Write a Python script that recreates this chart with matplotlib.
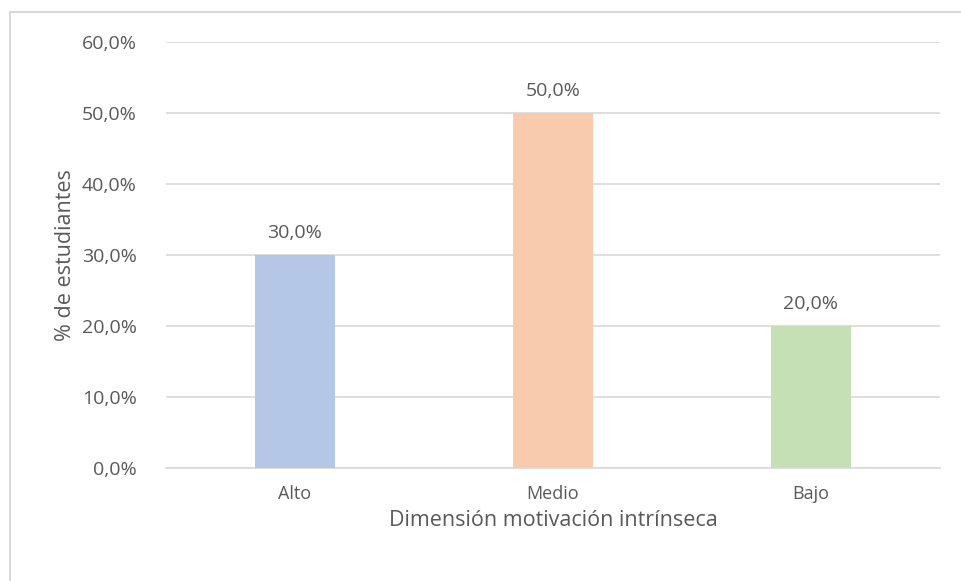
import matplotlib.pyplot as plt
from matplotlib.lines import Line2D
from matplotlib.ticker import FuncFormatter

categories = ['Alto', 'Medio', 'Bajo']
values = [30.0, 50.0, 20.0]
colors = ['#B4C7E7', '#F8CBAD', '#C5E0B4']
yticks = [0, 10, 20, 30, 40, 50, 60]

plt.rcParams['font.family'] = ['Open Sans', 'DejaVu Sans']
txt = '#595959'

fig = plt.figure(figsize=(9.62, 5.81), dpi=100)
ax = fig.add_axes([166/962, 113/581, 774/962, 426/581])

# border (only top and left are visible in the crop)
W, H = 962, 581
fig.lines.append(Line2D([10/W, 10/W], [0, 1 - 12/H], transform=fig.transFigure,
                        color='#D9D9D9', linewidth=1.5))
fig.lines.append(Line2D([10/W, 1], [1 - 12/H, 1 - 12/H], transform=fig.transFigure,
                        color='#D9D9D9', linewidth=1.5))

x = range(len(categories))
bars = ax.bar(x, values, width=0.31, color=colors, zorder=3)
for b, v in zip(bars, values):
    ax.text(b.get_x() + b.get_width() / 2, v + 1.8, f'{v:.1f}%'.replace('.', ','),
            ha='center', va='bottom', fontsize=14, color=txt)

ax.set_xlim(-0.5, 2.5)
ax.set_ylim(0, 60)
ax.set_yticks(yticks)
ax.yaxis.set_major_formatter(FuncFormatter(lambda v, p: f'{v:.1f}%'.replace('.', ',')))
ax.set_xticks(list(x))
ax.set_xticklabels(categories)
ax.grid(axis='y', color='#D9D9D9', linewidth=1.2, zorder=0)
for s in ['top', 'right', 'left']:
    ax.spines[s].set_visible(False)
ax.spines['bottom'].set_color('#D9D9D9')
ax.spines['bottom'].set_linewidth(1.2)
ax.tick_params(length=0, colors=txt)
ax.tick_params(axis='y', pad=21, labelsize=14)
ax.tick_params(axis='x', pad=12, labelsize=13)

ax.set_xlabel('Dimensión motivación intrínseca', fontsize=15.5, color=txt, labelpad=5)
ax.set_ylabel('% de estudiantes', fontsize=15.5, color=txt, labelpad=4)

fig.savefig('out.png', dpi=100)
